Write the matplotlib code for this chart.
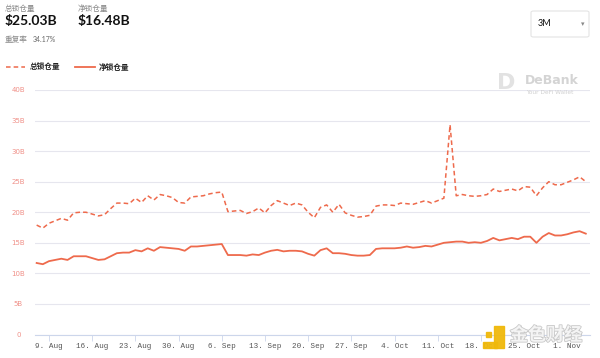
import matplotlib
matplotlib.use("Agg")
import matplotlib.pyplot as plt
import matplotlib.dates as mdates
import matplotlib.patheffects as pe
import numpy as np
import pandas as pd
from matplotlib.patches import FancyBboxPatch, Rectangle, Circle

plt.rcParams['font.family'] = ['Noto Sans CJK SC', 'DejaVu Sans']

start_date = "2021-08-07"
total_locked = [17.9, 17.4, 18.2, 18.6, 19.0, 18.7, 19.9, 20.0, 20.0, 19.7,
                19.4, 19.6, 20.6, 21.5, 21.5, 21.4, 22.3, 21.6, 22.7, 22.0,
                22.9, 22.7, 22.4, 21.6, 21.5, 22.5, 22.6, 22.7, 23.0, 23.2,
                23.3, 20.1, 20.2, 20.3, 19.8, 20.1, 20.7, 19.9, 21.1, 21.9,
                21.5, 21.1, 21.5, 21.2, 20.0, 19.1, 20.8, 21.2, 20.0, 21.3,
                19.9, 19.5, 19.2, 19.3, 19.5, 21.0, 21.2, 21.2, 21.1, 21.5,
                21.4, 21.3, 21.6, 21.9, 21.5, 21.9, 22.3, 34.3, 22.7, 22.9,
                22.7, 22.6, 22.7, 22.9, 23.8, 23.4, 23.6, 23.8, 23.5, 24.2,
                24.1, 22.7, 24.0, 25.0, 24.5, 24.5, 24.9, 25.3, 25.8, 25.0]
net_locked = [11.7, 11.5, 12.0, 12.2, 12.4, 12.2, 12.8, 12.8, 12.8, 12.5,
              12.2, 12.3, 12.8, 13.3, 13.4, 13.4, 13.8, 13.6, 14.1, 13.7,
              14.3, 14.2, 14.1, 14.0, 13.7, 14.4, 14.4, 14.5, 14.6, 14.7,
              14.8, 13.0, 13.0, 13.0, 12.9, 13.1, 13.0, 13.4, 13.7, 13.85,
              13.6, 13.7, 13.7, 13.6, 13.2, 12.9, 13.8, 14.1, 13.3, 13.3,
              13.2, 13.0, 12.9, 12.9, 13.0, 14.0, 14.1, 14.1, 14.1, 14.2,
              14.4, 14.2, 14.3, 14.5, 14.4, 14.7, 15.0, 15.1, 15.2, 15.2,
              15.0, 15.1, 15.0, 15.3, 15.8, 15.4, 15.6, 15.8, 15.6, 16.0,
              16.0, 15.0, 16.0, 16.6, 16.2, 16.2, 16.4, 16.7, 16.9, 16.5]
y_ticks = [0, 5, 10, 15, 20, 25, 30, 35, 40]
y_tick_labels = ["0", "5B", "10B", "15B", "20B", "25B", "30B", "35B", "40B"]
x_tick_dates = ["2021-08-09", "2021-08-16", "2021-08-23", "2021-08-30", "2021-09-06",
                "2021-09-13", "2021-09-20", "2021-09-27", "2021-10-04", "2021-10-11",
                "2021-10-18", "2021-10-25", "2021-11-01"]
x_tick_labels = ["9. Aug", "16. Aug", "23. Aug", "30. Aug", "6. Sep", "13. Sep",
                 "20. Sep", "27. Sep", "4. Oct", "11. Oct", "18. Oct", "25. Oct", "1. Nov"]
series_names = ["总锁仓量", "净锁仓量"]
header_values = ["$25.03B", "$16.48B"]
dup_label = "重复率"
dup_value = "34.17%"
range_label = "3M"

dates = pd.date_range(start_date, periods=len(total_locked), freq="D")

W, H = 600, 358
fig = plt.figure(figsize=(W / 100, H / 100), dpi=100)
fig.patch.set_facecolor("white")

ax_left, ax_right, ax_top, ax_bot = 35, 590, 90, 334.5
ax = fig.add_axes([ax_left / W, 1 - ax_bot / H, (ax_right - ax_left) / W, (ax_bot - ax_top) / H])

line_color = "#EE6A4C"
ax.plot(dates, total_locked, color=line_color, lw=1.1, ls=(0, (3, 2)))
ax.plot(dates, net_locked, color=line_color, lw=1.3)

ax.set_ylim(0, 40)
ref = pd.Timestamp("2021-08-09")
px_per_day = 6.17
left_day = (ax_left - 49) / px_per_day
right_day = (ax_right - 49) / px_per_day
ax.set_xlim(mdates.date2num(ref + pd.Timedelta(days=left_day)),
            mdates.date2num(ref + pd.Timedelta(days=right_day)))

ax.set_yticks(y_ticks)
ax.set_yticklabels(y_tick_labels)
ax.set_xticks(pd.to_datetime(x_tick_dates))
ax.set_xticklabels(x_tick_labels)

for s in ["top", "right", "left"]:
    ax.spines[s].set_visible(False)
ax.spines["bottom"].set_color("#CCD6EB")
ax.spines["bottom"].set_linewidth(0.8)
ax.grid(axis="y", color="#E6E6EE", lw=0.8)
ax.set_axisbelow(True)
ax.tick_params(axis="y", length=0, pad=12, labelsize=5, labelcolor="#F09088")
ax.tick_params(axis="x", length=4, width=0.6, color="#CCD6EB", pad=2, labelsize=5.5,
               labelcolor="#555555")
for lab in ax.get_xticklabels():
    lab.set_family("Liberation Mono")
for lab in ax.get_yticklabels():
    lab.set_family("DejaVu Sans")
    lab.set_horizontalalignment("center")

# header
def px(x, y):
    return x / W, 1 - y / H

fig.text(*px(5, 9), series_names[0], fontsize=5.5, color="#888888", va="center")
fig.text(*px(5, 21), header_values[0], fontsize=10, color="#111111", va="center",
         family="Lato", fontweight="bold")
fig.text(*px(78, 9), series_names[1], fontsize=5.5, color="#888888", va="center")
fig.text(*px(78, 21), header_values[1], fontsize=10, color="#111111", va="center",
         family="Lato", fontweight="bold")
fig.text(*px(5, 40), dup_label, fontsize=5.5, color="#888888", va="center")
fig.text(*px(33, 40), dup_value, fontsize=5, color="#666666", va="center",
         family="Lato")

# legend
fig.add_artist(plt.Line2D([6 / W, 25 / W], [1 - 67 / H] * 2, color=line_color,
                          lw=1.1, ls=(0, (3, 2))))
fig.text(*px(30, 67), series_names[0], fontsize=5.5, color="#222222", va="center",
         fontweight="bold")
fig.add_artist(plt.Line2D([75 / W, 95 / W], [1 - 67 / H] * 2, color=line_color, lw=1.3))
fig.text(*px(99, 67), series_names[1], fontsize=5.5, color="#222222", va="center",
         fontweight="bold")

# range dropdown
box = FancyBboxPatch((531 / W, 1 - 37 / H), 58 / W, 26 / H,
                     boxstyle="round,pad=0,rounding_size=0.004",
                     transform=fig.transFigure, fc="white", ec="#E4E4E4", lw=0.8)
fig.add_artist(box)
fig.text(*px(538, 24), range_label, fontsize=6.5, color="#111111", va="center",
         family="Lato")
fig.text(*px(584, 24), "▾", fontsize=5, color="#888888", va="center", ha="right",
         family="DejaVu Sans")

# DeBank watermark
fig.text(*px(497, 83), "D", fontsize=16, color="#E2E2E2", va="center",
         family="DejaVu Sans", fontweight="bold")
fig.text(*px(525, 80), "DeBank", fontsize=9, color="#D4D4D4", va="center",
         family="DejaVu Sans", fontweight="bold")
fig.text(*px(526, 92), "Your DeFi Wallet", fontsize=4.2, color="#D0D0D0", va="center",
         family="DejaVu Sans")

# Jinse watermark
fig.add_artist(Rectangle((494 / W, 1 - 348 / H), 10 / W, 22 / H,
                         transform=fig.transFigure, color="#F0B90B", alpha=0.95))
fig.add_artist(Rectangle((483 / W, 1 - 348 / H), 14 / W, 6 / H,
                         transform=fig.transFigure, color="#F0B90B", alpha=0.95))
fig.add_artist(Rectangle((486 / W, 1 - 337 / H), 5 / W, 5 / H,
                         transform=fig.transFigure, color="#F0B90B", alpha=0.95))
fig.text(*px(510, 335), "金色财经", fontsize=13, color="#F4F4F4", va="center",
         fontweight="bold",
         path_effects=[pe.withStroke(linewidth=1.2, foreground="#C8C8C8")])

fig.savefig("out.png", dpi=100, facecolor="white")
